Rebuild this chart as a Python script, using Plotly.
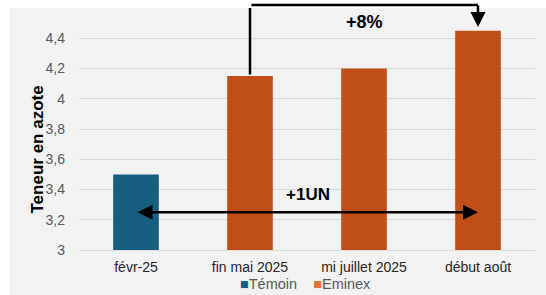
import plotly.graph_objects as go

categories = ["févr-25", "fin mai 2025", "mi juillet 2025", "début août"]
values = [3.5, 4.15, 4.2, 4.45]
bar_colors = ["#175F81", "#BF4F16", "#BF4F16", "#BF4F16"]
legend_names = ["Témoin", "Eminex"]
legend_colors = ["#156082", "#E97132"]
y_ticks = [3, 3.2, 3.4, 3.6, 3.8, 4, 4.2, 4.4]

fig = go.Figure()
fig.add_trace(go.Bar(x=categories, y=values, marker=dict(color=bar_colors, line=dict(width=0)),
                     showlegend=False, width=0.4))

W, H = 546, 295
L, R, T, B = 79, 11, 8, 45
pw, ph = W - L - R, H - T - B

def px(xp):
    return (xp - L) / pw

def py(yp):
    return (H - B - yp) / ph

fig.update_layout(
    width=W, height=H,
    margin=dict(l=L, r=R, t=T, b=B, autoexpand=False),
    paper_bgcolor="#f2f2f2", plot_bgcolor="#f2f2f2",
    separators=", ",
    font=dict(family="Liberation Sans, Arial, sans-serif", color="#595959", size=13),
    bargap=0.6,
    showlegend=False,
    xaxis=dict(range=[-0.5, 3.5], showgrid=False, showline=True, linecolor="#d9d9d9",
               ticks="", tickfont=dict(size=14, color="#262626"), ticklabelstandoff=4,
               fixedrange=True),
    yaxis=dict(range=[3, 4.6], tickvals=y_ticks, showgrid=True, gridcolor="#d9d9d9",
               gridwidth=1, zeroline=False, ticks="", tickfont=dict(size=14, color="#595959"),
               ticklabelstandoff=13, fixedrange=True),
)

shapes = [
    dict(type="rect", xref="paper", yref="paper", x0=px(0), x1=px(W + 5), y0=py(0), y1=py(8),
         fillcolor="white", line=dict(width=0), layer="below"),
    dict(type="rect", xref="paper", yref="paper", x0=px(0), x1=px(10), y0=py(0), y1=py(H + 5),
         fillcolor="white", line=dict(width=0), layer="below"),
]
fig.update_layout(shapes=shapes)

ann = []
# legend (drawn as text items)
legend_html = "&nbsp;&nbsp;&nbsp;&nbsp;".join(
    f"<span style='color:{c}'>■</span>{n}" for n, c in zip(legend_names, legend_colors))
ann.append(dict(text=legend_html, xref="paper", yref="paper", x=px(238), y=py(284),
                xanchor="left", yanchor="middle", showarrow=False,
                font=dict(size=14.5, color="#595959")))
# y-axis title
ann.append(dict(text="<b>Teneur en azote</b>", xref="paper", yref="paper", x=px(25), y=py(150),
                textangle=-90, showarrow=False, font=dict(size=17, color="#000000")))
# +1UN double arrow
ann.append(dict(x=3, y=3.25, xref="x", yref="y", ax=0, ay=3.25, axref="x", ayref="y",
                text="", showarrow=True, arrowhead=2, arrowside="end+start", arrowsize=1.2,
                arrowwidth=2.5, arrowcolor="#000000"))
ann.append(dict(x=1.51, y=3.365, xref="x", yref="y", text="<b>+1UN</b>", showarrow=False,
                font=dict(size=17, color="#000000")))
# +8% elbow connector
ann.append(dict(x=1, y=values[1] + 0.01, xref="x", yref="y", ax=0, ay=-68,
                text="", showarrow=True, arrowhead=0, arrowwidth=2.5, arrowcolor="#000000",
                standoff=0, startstandoff=0))
ann.append(dict(x=3, y=py(5), xref="x", yref="paper", ax=1, ay=0, axref="x", ayref="pixel",
                text="", showarrow=True, arrowhead=0, arrowwidth=2.5, arrowcolor="#000000"))
ann.append(dict(x=3, y=values[3] + 0.025, xref="x", yref="y", ax=0, ay=-23,
                text="", showarrow=True, arrowhead=2, arrowsize=1.2, arrowwidth=2.5,
                arrowcolor="#000000"))
ann.append(dict(x=2.0, y=4.51, xref="x", yref="y", text="<b>+8%</b>", showarrow=False,
                font=dict(size=18, color="#000000")))
fig.update_layout(annotations=ann)

fig.write_html("out.html")
